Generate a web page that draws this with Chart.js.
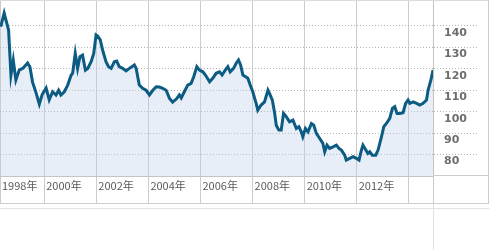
<!DOCTYPE html>
<html>
<head>
<meta charset="utf-8">
<script src="https://cdn.jsdelivr.net/npm/chart.js"></script>
<style>
  body { margin: 0; background: #fff; }
  #wrap { position: relative; width: 489px; height: 250px; overflow: hidden; }
  #chart { position: absolute; left: 0; top: 0; }
  .ln { position: absolute; background: #cccccc; }
</style>
</head>
<body>
<div id="wrap">
  <canvas id="chart" width="489" height="250"></canvas>
  <div class="ln" style="left:0;top:0;width:489px;height:1px;background:#dcdcdc"></div>
  <div class="ln" style="left:488px;top:0;width:1px;height:204px"></div>
  <div class="ln" style="left:433px;top:175px;width:56px;height:1px"></div>
  <div class="ln" style="left:0;top:203px;width:489px;height:1px"></div>
  <div class="ln" style="left:0;top:208px;width:489px;height:1px;background:#e2e2e2"></div>
  <div class="ln" style="left:433px;top:204px;width:1px;height:46px;background:#e2e2e2"></div>
</div>
<script>
// monthly-ish readings, decimal year
const dates = [
  1998.33, 1998.46, 1998.63, 1998.72, 1998.81, 1998.91, 1999.04, 1999.19, 1999.36, 1999.45,
  1999.55, 1999.68, 1999.81, 1999.92, 2000.07, 2000.19, 2000.32, 2000.45, 2000.55, 2000.64,
  2000.77, 2000.90, 2001.03, 2001.09, 2001.19, 2001.28, 2001.37, 2001.47, 2001.58, 2001.67,
  2001.80, 2001.90, 2001.99, 2002.05, 2002.15, 2002.24, 2002.37, 2002.47, 2002.57, 2002.69,
  2002.78, 2002.88, 2003.01, 2003.14, 2003.27, 2003.46, 2003.53, 2003.65, 2003.78, 2003.91,
  2004.04, 2004.17, 2004.30, 2004.42, 2004.55, 2004.68, 2004.81, 2004.93, 2005.07, 2005.19,
  2005.26, 2005.38, 2005.51, 2005.64, 2005.74, 2005.86, 2005.96, 2006.09, 2006.19, 2006.35,
  2006.47, 2006.60, 2006.73, 2006.83, 2006.95, 2007.05, 2007.14, 2007.27, 2007.37, 2007.46,
  2007.54, 2007.63, 2007.73, 2007.82, 2007.91, 2008.01, 2008.08, 2008.14, 2008.20, 2008.33,
  2008.46, 2008.59, 2008.65, 2008.76, 2008.85, 2008.91, 2009.01, 2009.10, 2009.19, 2009.30,
  2009.42, 2009.55, 2009.68, 2009.78, 2009.87, 2009.93, 2010.03, 2010.13, 2010.26, 2010.35,
  2010.45, 2010.58, 2010.70, 2010.77, 2010.86, 2010.96, 2011.09, 2011.22, 2011.32, 2011.41,
  2011.54, 2011.60, 2011.73, 2011.86, 2011.99, 2012.09, 2012.18, 2012.24, 2012.35, 2012.43,
  2012.50, 2012.60, 2012.73, 2012.82, 2012.95, 2013.04, 2013.14, 2013.27, 2013.37, 2013.46,
  2013.55, 2013.65, 2013.78, 2013.88, 2013.97, 2014.04, 2014.17, 2014.30, 2014.42, 2014.55,
  2014.68, 2014.74, 2014.85, 2014.93
];
const rates = [
  139.7, 146.0, 138.0, 117.0, 124.0, 114.8, 119.4, 120.4, 122.7, 120.8,
  113.8, 109.0, 103.5, 108.0, 111.0, 105.5, 109.3, 107.8, 110.0, 107.8,
  109.3, 112.4, 117.0, 118.0, 127.2, 120.2, 125.7, 126.4, 119.4, 120.2,
  123.3, 127.2, 135.8, 135.3, 133.5, 128.8, 123.3, 121.0, 120.2, 123.3,
  123.6, 121.0, 120.2, 119.0, 120.2, 121.8, 120.2, 112.4, 110.9, 110.0,
  107.8, 110.0, 111.6, 111.5, 110.9, 110.0, 106.2, 104.5, 105.9, 107.8,
  106.4, 109.3, 112.4, 113.2, 116.3, 121.0, 119.4, 118.6, 117.1, 114.0,
  115.6, 117.9, 118.6, 117.1, 119.4, 121.0, 118.6, 120.2, 122.6, 124.1,
  121.8, 117.1, 116.3, 115.6, 112.4, 109.3, 106.2, 103.9, 100.7, 103.1,
  104.6, 110.0, 108.5, 105.4, 99.2, 93.7, 91.4, 91.4, 99.2, 97.6,
  95.3, 96.1, 92.2, 93.0, 90.6, 88.3, 92.2, 90.6, 94.5, 93.7,
  89.9, 87.5, 85.2, 81.3, 84.4, 82.9, 83.6, 84.4, 82.9, 82.1,
  79.7, 77.4, 78.2, 79.0, 78.2, 77.4, 82.1, 84.4, 82.1, 80.5,
  81.3, 79.7, 79.7, 82.1, 88.3, 93.0, 94.5, 96.9, 101.5, 102.3,
  99.2, 99.2, 99.5, 103.9, 105.4, 103.9, 104.6, 103.9, 103.1, 103.9,
  105.4, 110.0, 114.8, 119.4
];
const gridYears = [2000, 2002, 2004, 2006, 2008, 2010, 2012, 2014];
const yearLabels = ["1998年", "2000年", "2002年", "2004年", "2006年", "2008年", "2010年", "2012年"];
const yTicks = [80, 90, 100, 110, 120, 130, 140];

const points = dates.map((d, i) => ({ x: d, y: rates[i] }));

new Chart(document.getElementById("chart"), {
  type: "line",
  data: {
    datasets: [{
      data: points,
      borderColor: "#0b5b82",
      borderWidth: 3,
      backgroundColor: "rgba(190, 208, 232, 0.36)",
      fill: "start",
      pointRadius: 0,
      tension: 0
    }]
  },
  options: {
    responsive: false,
    animation: false,
    devicePixelRatio: 1,
    layout: { padding: { left: 0, right: 0, top: 0, bottom: 46 } },
    plugins: { legend: { display: false }, tooltip: { enabled: false } },
    scales: {
      x: {
        type: "linear",
        min: dates[0] - 0.03,
        max: dates[dates.length - 1],
        afterBuildTicks: s => {
          s.ticks = [s.min, ...gridYears, s.max].map(v => ({ value: v }));
        },
        afterFit: s => { s.height = 28; },
        ticks: {
          callback: (v, i) => yearLabels[i] || "",
          align: "start",
          labelOffset: 2,
          padding: -25,
          autoSkip: false,
          maxRotation: 0,
          color: "#5a5a5a",
          font: { family: "'Noto Sans CJK JP', 'DejaVu Sans'", size: 11 }
        },
        grid: { color: "#cccccc", tickColor: "#cccccc", tickLength: 28, lineWidth: 1 },
        border: { display: true, color: "#c4c4c4" }
      },
      y: {
        position: "right",
        min: 70,
        max: 152.1,
        afterBuildTicks: s => { s.ticks = yTicks.map(v => ({ value: v })); },
        afterFit: s => { s.width = 56; },
        ticks: {
          padding: -34,
          labelOffset: 7,
          color: "#6e6e6e",
          font: { family: "'DejaVu Sans'", size: 11, weight: "bold" }
        },
        grid: { color: "#b4b4b4", tickColor: "#b4b4b4", tickLength: 45, tickBorderDash: [1, 2] },
        border: { display: true, color: "#c4c4c4", dash: [1, 2] }
      }
    }
  }
});
</script>
</body>
</html>
